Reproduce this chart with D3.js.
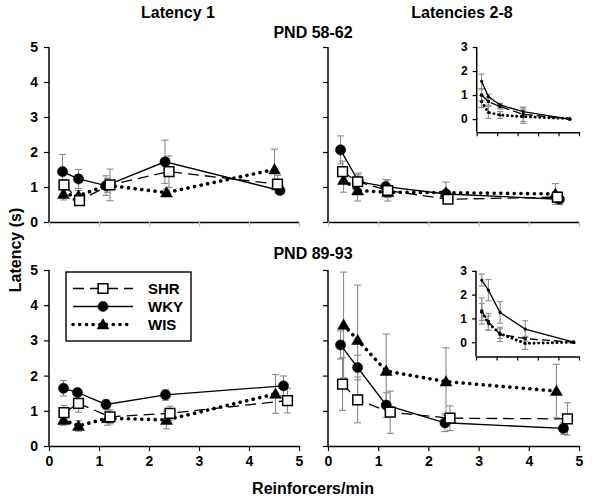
<!DOCTYPE html>
<html><head><meta charset="utf-8">
<script src="https://cdn.jsdelivr.net/npm/d3@7"></script>
<style>
body{margin:0;background:#fff;}
svg{display:block;font-family:"Liberation Sans",Arial,sans-serif;font-weight:bold;}
</style></head><body>
<svg id="chart" width="600" height="502"></svg>
<script>
// ---------- data ----------
const groups = ["SHR", "WKY", "WIS"];
const xTickValues = [0, 1, 2, 3, 4, 5];
const yTickValues = [0, 1, 2, 3, 4, 5];
const insetYTickValues = [0, 1, 2, 3];
const columnTitles = ["Latency 1", "Latencies 2-8"];
const ageTitles = ["PND 58-62", "PND 89-93"];
const yAxisTitle = "Latency (s)";
const xAxisTitle = "Reinforcers/min";

// PND 58-62, Latency 1
const p58L1_SHR_x = [0.30, 0.61, 1.22, 2.40, 4.57];
const p58L1_SHR_y = [1.06, 0.61, 1.06, 1.44, 1.08];
const p58L1_SHR_e = [0.15, 0.08, 0.45, 0.45, 0.25];
const p58L1_WKY_x = [0.27, 0.59, 1.14, 2.32, 4.62];
const p58L1_WKY_y = [1.44, 1.23, 1.04, 1.72, 0.90];
const p58L1_WKY_e = [0.49, 0.27, 0.28, 0.62, 0.10];
const p58L1_WIS_x = [0.29, 0.59, 1.17, 2.35, 4.51];
const p58L1_WIS_y = [0.80, 0.75, 1.05, 0.84, 1.50];
const p58L1_WIS_e = [0.17, 0.15, 0.20, 0.10, 0.58];

// PND 58-62, Latencies 2-8
const p58L28_SHR_x = [0.29, 0.59, 1.19, 2.39, 4.57];
const p58L28_SHR_y = [1.44, 1.15, 0.90, 0.65, 0.71];
const p58L28_SHR_e = [0.30, 0.20, 0.30, 0.10, 0.15];
const p58L28_WKY_x = [0.25, 0.61, 1.15, 2.35, 4.61];
const p58L28_WKY_y = [2.06, 1.15, 1.01, 0.80, 0.65];
const p58L28_WKY_e = [0.40, 0.25, 0.20, 0.10, 0.15];
const p58L28_WIS_x = [0.31, 0.59, 1.19, 2.35, 4.53];
const p58L28_WIS_y = [1.20, 0.90, 0.85, 0.84, 0.80];
const p58L28_WIS_e = [0.35, 0.30, 0.15, 0.30, 0.30];

// PND 58-62 inset
const p58In_SHR_x = [0.24, 0.57, 1.14, 2.27, 4.55];
const p58In_SHR_y = [1.00, 0.73, 0.52, 0.20, 0.00];
const p58In_SHR_e = [0.25, 0.15, 0.10, 0.30, 0.00];
const p58In_WKY_x = [0.24, 0.57, 1.14, 2.27, 4.55];
const p58In_WKY_y = [1.57, 0.94, 0.59, 0.31, 0.00];
const p58In_WKY_e = [0.30, 0.10, 0.07, 0.15, 0.00];
const p58In_WIS_x = [0.24, 0.57, 1.14, 2.27, 4.55];
const p58In_WIS_y = [0.73, 0.28, 0.17, 0.10, 0.02];
const p58In_WIS_e = [0.25, 0.25, 0.14, 0.28, 0.00];

// PND 89-93, Latency 1
const p89L1_SHR_x = [0.30, 0.59, 1.22, 2.42, 4.77];
const p89L1_SHR_y = [0.95, 1.21, 0.83, 0.93, 1.29];
const p89L1_SHR_e = [0.20, 0.25, 0.20, 0.20, 0.35];
const p89L1_WKY_x = [0.29, 0.57, 1.14, 2.33, 4.69];
const p89L1_WKY_y = [1.64, 1.52, 1.18, 1.45, 1.71];
const p89L1_WKY_e = [0.22, 0.08, 0.13, 0.15, 0.28];
const p89L1_WIS_x = [0.29, 0.59, 1.17, 2.35, 4.53];
const p89L1_WIS_y = [0.74, 0.57, 0.79, 0.74, 1.48];
const p89L1_WIS_e = [0.15, 0.15, 0.20, 0.25, 0.55];

// PND 89-93, Latencies 2-8
const p89L28_SHR_x = [0.29, 0.59, 1.24, 2.43, 4.77];
const p89L28_SHR_y = [1.76, 1.31, 0.96, 0.79, 0.77];
const p89L28_SHR_e = [0.75, 0.65, 0.60, 0.35, 0.46];
const p89L28_WKY_x = [0.25, 0.59, 1.16, 2.33, 4.69];
const p89L28_WKY_y = [2.87, 2.23, 1.16, 0.66, 0.50];
const p89L28_WKY_e = [0.40, 0.35, 0.35, 0.25, 0.17];
const p89L28_WIS_x = [0.31, 0.59, 1.16, 2.35, 4.55];
const p89L28_WIS_y = [3.44, 3.01, 2.13, 1.83, 1.56];
const p89L28_WIS_e = [1.50, 1.56, 1.05, 0.96, 0.76];

// PND 89-93 inset
const p89In_SHR_x = [0.28, 0.60, 1.17, 2.39, 4.74];
const p89In_SHR_y = [1.31, 0.86, 0.33, 0.15, 0.00];
const p89In_SHR_e = [0.55, 0.35, 0.30, 0.10, 0.00];
const p89In_WKY_x = [0.28, 0.60, 1.17, 2.39, 4.74];
const p89In_WKY_y = [2.61, 2.19, 1.25, 0.55, 0.00];
const p89In_WKY_e = [0.25, 0.45, 0.45, 0.35, 0.00];
const p89In_WIS_x = [0.28, 0.60, 1.17, 2.39, 4.74];
const p89In_WIS_y = [1.27, 0.80, 0.36, -0.05, 0.00];
const p89In_WIS_e = [0.35, 0.30, 0.20, 0.25, 0.00];

// ---------- build series tables ----------
function mk(xs, ys, es) { return xs.map((x, i) => ({x: x, y: ys[i], e: es[i]})); }
const panelSeries = {
  p58L1: {SHR: mk(p58L1_SHR_x, p58L1_SHR_y, p58L1_SHR_e), WKY: mk(p58L1_WKY_x, p58L1_WKY_y, p58L1_WKY_e), WIS: mk(p58L1_WIS_x, p58L1_WIS_y, p58L1_WIS_e)},
  p58L28: {SHR: mk(p58L28_SHR_x, p58L28_SHR_y, p58L28_SHR_e), WKY: mk(p58L28_WKY_x, p58L28_WKY_y, p58L28_WKY_e), WIS: mk(p58L28_WIS_x, p58L28_WIS_y, p58L28_WIS_e)},
  p58In: {SHR: mk(p58In_SHR_x, p58In_SHR_y, p58In_SHR_e), WKY: mk(p58In_WKY_x, p58In_WKY_y, p58In_WKY_e), WIS: mk(p58In_WIS_x, p58In_WIS_y, p58In_WIS_e)},
  p89L1: {SHR: mk(p89L1_SHR_x, p89L1_SHR_y, p89L1_SHR_e), WKY: mk(p89L1_WKY_x, p89L1_WKY_y, p89L1_WKY_e), WIS: mk(p89L1_WIS_x, p89L1_WIS_y, p89L1_WIS_e)},
  p89L28: {SHR: mk(p89L28_SHR_x, p89L28_SHR_y, p89L28_SHR_e), WKY: mk(p89L28_WKY_x, p89L28_WKY_y, p89L28_WKY_e), WIS: mk(p89L28_WIS_x, p89L28_WIS_y, p89L28_WIS_e)},
  p89In: {SHR: mk(p89In_SHR_x, p89In_SHR_y, p89In_SHR_e), WKY: mk(p89In_WKY_x, p89In_WKY_y, p89In_WKY_e), WIS: mk(p89In_WIS_x, p89In_WIS_y, p89In_WIS_e)}
};

// ---------- styles ----------
const lineStyle = {
  SHR: {dash: "11,6", width: 1.3, cap: "butt"},
  WKY: {dash: null, width: 1.3, cap: "butt"},
  WIS: {dash: "0.1,6.6", width: 3.6, cap: "round"}
};
const symbolType = {SHR: d3.symbolSquare, WKY: d3.symbolCircle, WIS: d3.symbolTriangle};
const symbolSize = {SHR: 95, WKY: 82, WIS: 62};
const markerOrder = ["WKY", "WIS", "SHR"];

const svg = d3.select("#chart");

function drawPanel(cfg) {
  const data = panelSeries[cfg.key];
  const x = d3.scaleLinear().domain([0, 5]).range([cfg.x0, cfg.x1]);
  const y = d3.scaleLinear().domain(cfg.yDomain).range([cfg.yBot, cfg.yTop]);
  const g = svg.append("g");

  // axes
  const ya = d3.axisLeft(y).tickValues(cfg.yTicks).tickSize(cfg.tick).tickSizeOuter(0)
    .tickPadding(cfg.yPad).tickFormat(cfg.yLabels ? d3.format("d") : () => "");
  const yg = g.append("g").attr("transform", `translate(${cfg.x0},0)`).call(ya);
  const xa = d3.axisBottom(x).tickValues(xTickValues).tickSize(cfg.tick).tickSizeOuter(0)
    .tickPadding(5).tickFormat(cfg.xLabels ? d3.format("d") : () => "");
  const xg = g.append("g").attr("transform", `translate(0,${cfg.yBot})`).call(xa);
  [yg, xg].forEach(a => {
    a.select(".domain").attr("stroke", "#000").attr("stroke-width", 1.5);
    a.selectAll("text").attr("font-size", cfg.fontSize).attr("font-weight", "bold")
      .attr("fill", "#000").attr("font-family", '"Liberation Sans",Arial,sans-serif');
  });
  yg.selectAll(".tick line").attr("stroke", "#000").attr("stroke-width", 1.2);
  xg.selectAll(".tick line").attr("stroke", cfg.xTickColor || "#000").attr("stroke-width", 1.2);
  yg.select(".domain").attr("d", `M0,${cfg.yBot}V${cfg.yTop}`);

  // error bars
  const cap = cfg.cap;
  groups.forEach(gr => {
    const eg = g.append("g").attr("stroke", "#8a8a8a").attr("stroke-width", 1.1);
    data[gr].filter(d => d.e > 0).forEach(d => {
      const cx = x(d.x), t = y(d.y + d.e), b = y(Math.max(d.y - d.e, cfg.yDomain[0]));
      eg.append("line").attr("x1", cx).attr("x2", cx).attr("y1", t).attr("y2", b);
      eg.append("line").attr("x1", cx - cap).attr("x2", cx + cap).attr("y1", t).attr("y2", t);
      if (d.y - d.e >= cfg.yDomain[0])
        eg.append("line").attr("x1", cx - cap).attr("x2", cx + cap).attr("y1", b).attr("y2", b);
    });
  });

  // lines
  const line = d3.line().x(d => x(d.x)).y(d => y(d.y));
  groups.forEach(gr => {
    const st = lineStyle[gr];
    g.append("path").datum(data[gr]).attr("d", line).attr("fill", "none")
      .attr("stroke", "#000").attr("stroke-width", st.width * (gr === "WIS" ? cfg.dotScale : 1))
      .attr("stroke-linecap", st.cap)
      .attr("stroke-dasharray", st.dash ? (gr === "WIS" ? cfg.dotDash : cfg.dashDash) : null);
  });

  // markers
  markerOrder.forEach(gr => {
    const hollow = gr === "SHR" && !cfg.inset;
    g.append("g").selectAll("path").data(data[gr]).join("path")
      .attr("d", d3.symbol().type(symbolType[gr]).size(symbolSize[gr] * cfg.markerScale))
      .attr("transform", d => `translate(${x(d.x)},${y(d.y) + (gr === "WIS" ? 1 * cfg.markerScale : 0)})`)
      .attr("fill", hollow ? "#fff" : "#000")
      .attr("stroke", "#000").attr("stroke-width", hollow ? 1.5 : (cfg.inset ? 0 : 0.5));
  });
}

const mainCfg = {yDomain: [0, 5], yTicks: yTickValues, tick: 5, yPad: 6, fontSize: 14, cap: 3.5,
  markerScale: 1, dotScale: 1, dotDash: "0.1,6.6", dashDash: "11,6", inset: false};
const insetCfg = {yTicks: insetYTickValues, tick: 4, yPad: 5, fontSize: 12, cap: 3,
  markerScale: 0.1, dotScale: 0.8, dotDash: "0.1,4.5", dashDash: "8,4", yLabels: true, xLabels: false, inset: true};

drawPanel(Object.assign({}, mainCfg, {key: "p58L1", x0: 49, x1: 299, yTop: 47, yBot: 222, yLabels: true, xLabels: false, xTickColor: "#c8c8c8"}));
drawPanel(Object.assign({}, mainCfg, {key: "p58L28", x0: 328, x1: 579, yTop: 47, yBot: 222, yLabels: false, xLabels: false, xTickColor: "#c8c8c8"}));
drawPanel(Object.assign({}, mainCfg, {key: "p89L1", x0: 49, x1: 299, yTop: 270, yBot: 446, yLabels: true, xLabels: true}));
drawPanel(Object.assign({}, mainCfg, {key: "p89L28", x0: 328, x1: 579, yTop: 270, yBot: 446, yLabels: false, xLabels: true}));
drawPanel(Object.assign({}, insetCfg, {key: "p58In", x0: 476.7, x1: 579, yTop: 47, yBot: 132.3, yDomain: [-0.55, 3]}));
drawPanel(Object.assign({}, insetCfg, {key: "p89In", x0: 476, x1: 579, yTop: 270.8, yBot: 356.5, yDomain: [-0.6, 3]}));

// ---------- titles ----------
function label(txt, x, y, size, rot) {
  const t = svg.append("text").text(txt).attr("text-anchor", "middle").attr("dy", "0.35em")
    .attr("font-size", size).attr("font-weight", "bold").attr("fill", "#000");
  if (rot) t.attr("transform", `translate(${x},${y}) rotate(-90)`);
  else t.attr("x", x).attr("y", y);
}
label(columnTitles[0], 178, 12, 16);
label(columnTitles[1], 462, 12, 16);
label(ageTitles[0], 313, 32, 16);
label(ageTitles[1], 313, 253, 16);
label(yAxisTitle, 15, 250, 16, true);
label(xAxisTitle, 313, 488, 16);

// ---------- legend ----------
const lg = svg.append("g");
lg.append("rect").attr("x", 66).attr("y", 272).attr("width", 125).attr("height", 69)
  .attr("fill", "#fff").attr("stroke", "#000").attr("stroke-width", 1.4);
const legendRows = [288.5, 306.5, 324.5];
groups.forEach((gr, i) => {
  const yy = legendRows[i], st = lineStyle[gr];
  lg.append("line").attr("x1", 73).attr("x2", 133).attr("y1", yy).attr("y2", yy)
    .attr("stroke", "#000").attr("stroke-width", st.width).attr("stroke-linecap", st.cap)
    .attr("stroke-dasharray", st.dash);
  lg.append("path").attr("d", d3.symbol().type(symbolType[gr]).size(symbolSize[gr])())
    .attr("transform", `translate(103,${yy + (gr === "WIS" ? 1 : 0)})`)
    .attr("fill", gr === "SHR" ? "#fff" : "#000").attr("stroke", "#000")
    .attr("stroke-width", gr === "SHR" ? 1.5 : 0.5);
  lg.append("text").text(gr).attr("x", 148).attr("y", yy).attr("dy", "0.35em")
    .attr("font-size", 15).attr("font-weight", "bold");
});
</script>
</body></html>
